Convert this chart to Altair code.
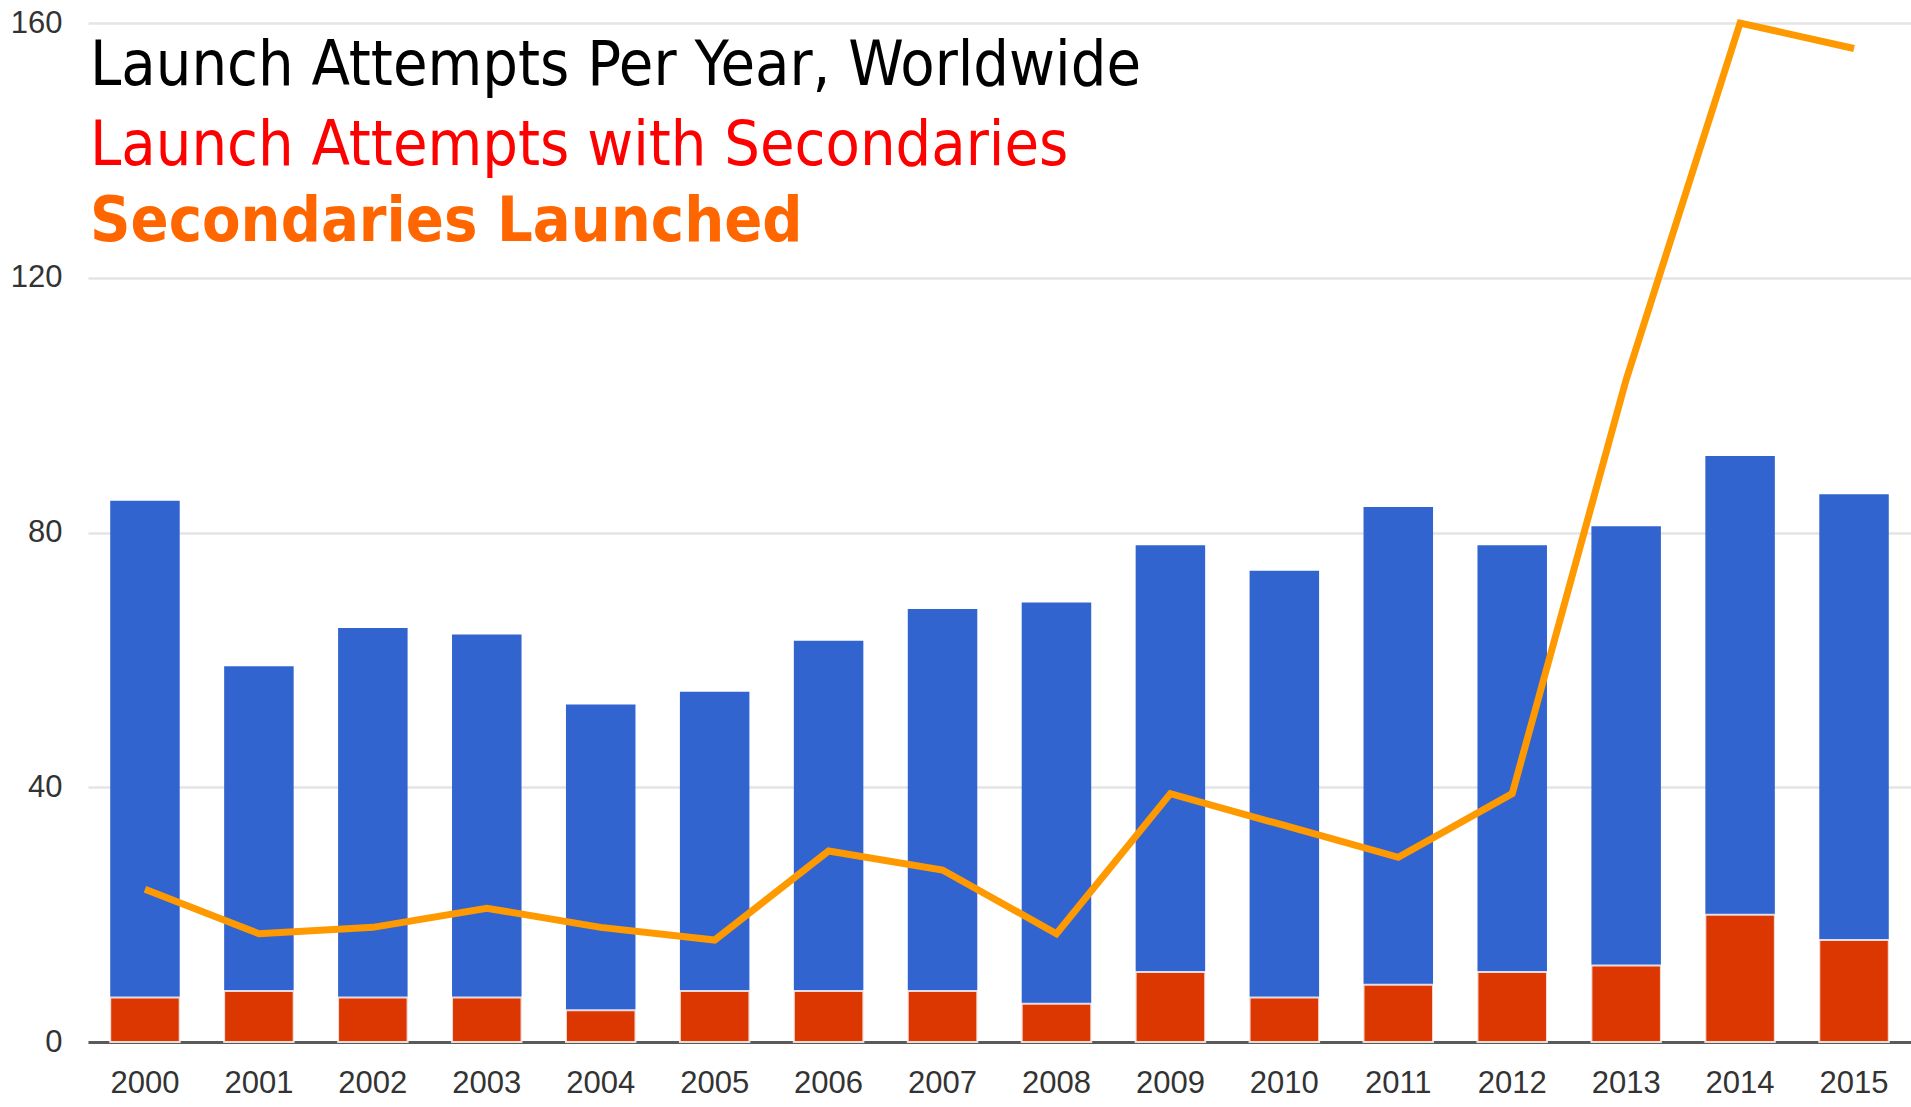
import altair as alt
import pandas as pd

years = [str(y) for y in range(2000, 2016)]
launch_attempts = [85, 59, 65, 64, 53, 55, 63, 68, 69, 78, 74, 84, 78, 81, 92, 86]
with_secondaries = [7, 8, 7, 7, 5, 8, 8, 8, 6, 11, 7, 9, 11, 12, 20, 16]
secondaries_launched = [24, 17, 18, 21, 18, 16, 30, 27, 17, 39, 34, 29, 39, 104, 160, 156]
y_ticks = [0, 40, 80, 120, 160]

title_lines = ["Launch Attempts Per Year, Worldwide",
               "Launch Attempts with Secondaries",
               "Secondaries Launched"]
title_colors = ["#000000", "#ff0000", "#ff6600"]
title_weights = ["normal", "normal", "bold"]

df = pd.DataFrame({
    "year": years,
    "attempts": launch_attempts,
    "with_sec": with_secondaries,
    "sec_launched": secondaries_launched,
})

xenc = alt.X(
    "year:O",
    sort=years,
    scale=alt.Scale(paddingInner=0.39, paddingOuter=0.195),
    axis=alt.Axis(title=None, labelAngle=0, ticks=False, grid=False,
                  domain=True, domainColor="#5a5a5a", domainWidth=3,
                  labelFont="Liberation Sans", labelFontSize=31,
                  labelColor="#333333", labelPadding=26),
)
yscale = alt.Scale(domain=[0, 160], nice=False)
yaxis = alt.Axis(title=None, values=y_ticks, ticks=False, domain=False,
                 grid=True, gridColor="#e4e4e4", gridWidth=2.5,
                 labelFont="Liberation Sans", labelFontSize=31,
                 labelColor="#333333", labelPadding=26)

base = alt.Chart(df)

blue = base.mark_bar(color="#3264d0").encode(
    x=xenc,
    y=alt.Y("attempts:Q", scale=yscale, axis=yaxis),
)
red = base.mark_bar(color="#dc3700", stroke="#ffffff", strokeWidth=2, strokeOpacity=0.8).encode(
    x=alt.X("year:O", sort=years),
    y=alt.Y("with_sec:Q"),
)
line = base.mark_line(color="#ff9900", strokeWidth=7).encode(
    x=alt.X("year:O", sort=years),
    y=alt.Y("sec_launched:Q"),
)

text_layers = []
baselines_y = [62, 142, 218]
for txt, col, wt, yy in zip(title_lines, title_colors, title_weights, baselines_y):
    text_layers.append(
        alt.Chart(alt.Data(values=[{"t": txt}])).mark_text(
            align="left", baseline="alphabetic", font="DejaVu Sans Condensed",
            fontSize=62.5, fontWeight=wt, color=col,
        ).encode(text="t:N", x=alt.value(2), y=alt.value(yy))
    )

chart = alt.layer(blue, red, line, *text_layers).properties(
    width=1823, height=1019,
    autosize=alt.AutoSizeParams(type="none"),
    padding={"left": 88, "top": 23, "right": 0, "bottom": 65},
    background="#ffffff",
).configure_view(stroke=None)

chart.save("out.html", embed_options={"renderer": "svg", "actions": False})
